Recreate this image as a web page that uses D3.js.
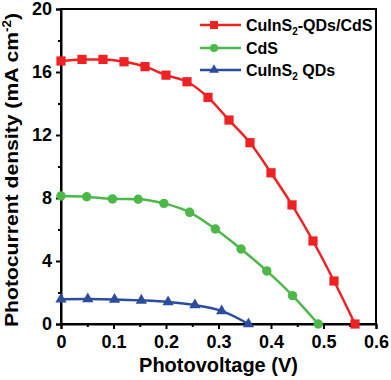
<!DOCTYPE html>
<html>
<head>
<meta charset="utf-8">
<script src="https://cdn.jsdelivr.net/npm/d3@7"></script>
<style>
body { margin: 0; background: #fff; }
text { font-family: "Liberation Sans", Arial, sans-serif; font-weight: bold; }
</style>
</head>
<body>
<script>
// values
var redV = [0, 0.04, 0.08, 0.12, 0.16, 0.20, 0.24, 0.28, 0.32, 0.36, 0.40, 0.44, 0.48, 0.52, 0.56];
var redJ = [16.7, 16.8, 16.8, 16.65, 16.34, 15.8, 15.38, 14.39, 12.95, 11.51, 9.6, 7.56, 5.27, 2.73, 0];
var greenV = [0, 0.049, 0.098, 0.147, 0.196, 0.245, 0.294, 0.343, 0.392, 0.441, 0.49];
var greenJ = [8.13, 8.08, 7.94, 7.92, 7.66, 7.09, 6.03, 4.76, 3.37, 1.8, 0];
var blueV = [0, 0.051, 0.102, 0.153, 0.204, 0.255, 0.306, 0.357];
var blueJ = [1.57, 1.58, 1.56, 1.5, 1.4, 1.2, 0.83, 0];
var xTicks = [0, 0.1, 0.2, 0.3, 0.4, 0.5, 0.6];
var yTicks = [0, 4, 8, 12, 16, 20];

var width = 391, height = 380;
var plotLeft = 61, plotRight = 376, plotTop = 9, plotBottom = 324;

var svg = d3.select('body').append('svg')
    .attr('width', width)
    .attr('height', height);

var x = d3.scaleLinear().domain([0, 0.6]).range([plotLeft, plotRight]);
var y = d3.scaleLinear().domain([0, 20]).range([plotBottom, plotTop]);

// frame
svg.append('rect')
    .attr('x', plotLeft).attr('y', plotTop)
    .attr('width', plotRight - plotLeft).attr('height', plotBottom - plotTop)
    .attr('fill', 'none').attr('stroke', '#000').attr('stroke-width', 2);

// minor ticks
var xMinor = d3.range(0.05, 0.6, 0.1);
var yMinor = d3.range(2, 20, 4);

var xAxis = svg.append('g')
    .attr('transform', 'translate(0,' + plotBottom + ')')
    .call(d3.axisBottom(x).tickValues(xTicks).tickSize(5).tickPadding(6));
svg.append('g')
    .attr('transform', 'translate(0,' + plotBottom + ')')
    .call(d3.axisBottom(x).tickValues(xMinor).tickFormat('').tickSize(3))
    .select('.domain').remove();

var yAxis = svg.append('g')
    .attr('transform', 'translate(' + plotLeft + ',0)')
    .call(d3.axisLeft(y).tickValues(yTicks).tickSize(5).tickPadding(4));
svg.append('g')
    .attr('transform', 'translate(' + plotLeft + ',0)')
    .call(d3.axisLeft(y).tickValues(yMinor).tickFormat('').tickSize(3))
    .select('.domain').remove();

svg.selectAll('.domain').attr('stroke-width', 2);
svg.selectAll('.tick line').attr('stroke-width', 2);
svg.selectAll('.tick text')
    .attr('font-size', 18)
    .attr('font-family', '"Liberation Sans", Arial, sans-serif')
    .attr('font-weight', 'bold')
    .attr('fill', '#000');
xAxis.selectAll('.tick text').text(function (d) { return d === 0 ? '0' : d3.format('.1f')(d); });

// axis titles
svg.append('text')
    .attr('x', (plotLeft + plotRight) / 2)
    .attr('y', 372)
    .attr('text-anchor', 'middle')
    .attr('font-size', 20)
    .text('Photovoltage (V)');

var yTitle = svg.append('text')
    .attr('transform', 'translate(18,170) rotate(-90)')
    .attr('text-anchor', 'middle')
    .attr('font-size', 19)
    .attr('textLength', 314)
    .attr('lengthAdjust', 'spacingAndGlyphs');
yTitle.append('tspan').text('Photocurrent density (mA cm');
yTitle.append('tspan').attr('font-size', 12).attr('dy', -7).text('-2');
yTitle.append('tspan').attr('dy', 7).text(')');

var series = [
    { name: 'red', v: redV, j: redJ, color: '#ee2222', shape: d3.symbolSquare, size: 85 },
    { name: 'green', v: greenV, j: greenJ, color: '#4cb848', shape: d3.symbolCircle, size: 70 },
    { name: 'blue', v: blueV, j: blueJ, color: '#2b4c9f', shape: d3.symbolTriangle, size: 55 }
];

var line = d3.line()
    .x(function (d) { return x(d[0]); })
    .y(function (d) { return y(d[1]); })
    .curve(d3.curveMonotoneX);

series.forEach(function (s) {
    var pts = s.v.map(function (v, i) { return [v, s.j[i]]; });
    svg.append('path')
        .attr('d', line(pts))
        .attr('fill', 'none')
        .attr('stroke', s.color)
        .attr('stroke-width', 2.5);
    svg.selectAll('.m-' + s.name)
        .data(pts)
        .enter().append('path')
        .attr('class', 'm-' + s.name)
        .attr('transform', function (d) { return 'translate(' + x(d[0]) + ',' + y(d[1]) + ')'; })
        .attr('d', d3.symbol().type(s.shape).size(s.size))
        .attr('fill', s.color);
});

// legend
var legendY = [25, 48, 70];
series.forEach(function (s, i) {
    var g = svg.append('g').attr('transform', 'translate(200,' + legendY[i] + ')');
    g.append('line').attr('x1', 0).attr('x2', 41).attr('y1', 0).attr('y2', 0)
        .attr('stroke', s.color).attr('stroke-width', 2.5);
    g.append('path').attr('transform', 'translate(14,0)')
        .attr('d', d3.symbol().type(s.shape).size(s.size * 0.75))
        .attr('fill', s.color);
});
var labels = [['CuInS', '2', '-QDs/CdS'], ['CdS'], ['CuInS', '2', ' QDs']];
labels.forEach(function (l, i) {
    var t = svg.append('text').attr('x', 246).attr('y', legendY[i] + 6).attr('font-size', 16);
    t.append('tspan').text(l[0]);
    if (l.length > 1) {
        t.append('tspan').attr('font-size', 10).attr('dy', 4).text(l[1]);
        t.append('tspan').attr('dy', -4).text(l[2]);
    }
});
</script>
</body>
</html>
